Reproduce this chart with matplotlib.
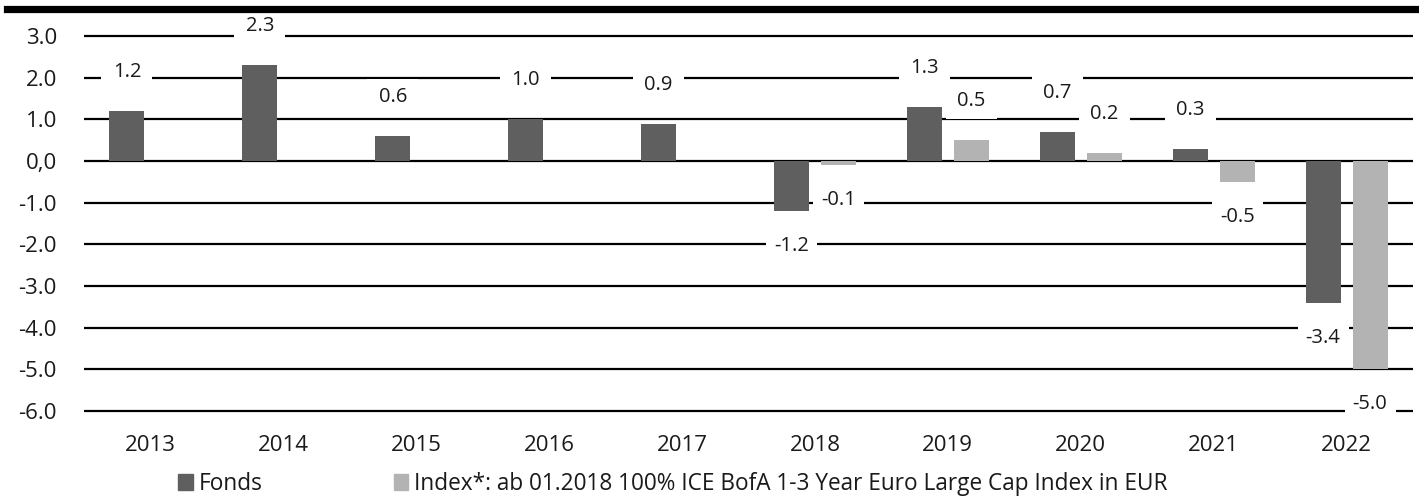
import matplotlib
matplotlib.use('Agg')
import matplotlib.pyplot as plt
from matplotlib.lines import Line2D
from matplotlib.patches import Patch, Rectangle
import matplotlib.transforms as mtransforms
import numpy as np

plt.rcParams['font.family'] = ['Open Sans', 'DejaVu Sans']

years = ['2013', '2014', '2015', '2016', '2017', '2018', '2019', '2020', '2021', '2022']
fonds = [1.2, 2.3, 0.6, 1.0, 0.9, -1.2, 1.3, 0.7, 0.3, -3.4]
index = [None, None, None, None, None, -0.1, 0.5, 0.2, -0.5, -5.0]
yticks = [3, 2, 1, 0, -1, -2, -3, -4, -5, -6]
ytick_labels = ['3.0', '2.0', '1.0', '0,0', '-1.0', '-2.0', '-3.0', '-4.0', '-5.0', '-6.0']
legend_labels = ['Fonds', 'Index*: ab 01.2018 100% ICE BofA 1-3 Year Euro Large Cap Index in EUR']

c_fonds = '#5f5f5f'
c_index = '#b3b3b3'
txt = '#1a1a1a'

W, H = 1419, 497
fig = plt.figure(figsize=(W/100, H/100), dpi=100)
ax = fig.add_axes([84/W, 84/H, (1413-84)/W, (463-84)/H])

x = np.arange(len(years))
w = 0.263
off = 0.177

# gridlines (drawn under the bars)
for t in yticks:
    ax.axhline(t, color='black', lw=1.6, zorder=1)

ax.bar(x - off, fonds, width=w, color=c_fonds, zorder=2)
idx_x = [xi + off for xi, v in zip(x, index) if v is not None]
idx_v = [v for v in index if v is not None]
ax.bar(idx_x, idx_v, width=w, color=c_index, zorder=2)

ax.set_xlim(-0.5, len(years) - 0.5)
ax.set_ylim(-6.05, 3.05)

# value labels; a fixed white box (51x36 px) cuts the gridline behind them
unit = 41.67  # px per unit on y
def label(xp, v):
    y = v + (39/unit if v >= 0 else -35/unit)
    tr = fig.dpi_scale_trans + mtransforms.ScaledTranslation(xp, y, ax.transData)
    ax.add_patch(Rectangle((-0.255, -0.18), 0.51, 0.36, transform=tr, fc='white', ec='none',
                           zorder=2.5, clip_on=False))
    ax.text(xp, y, f'{v:.1f}', ha='center', va='center', fontsize=14.5, color=txt, zorder=3)

for xi, v in zip(x, fonds):
    label(xi - off, v)
for xi, v in zip(idx_x, idx_v):
    label(xi, v)

ax.set_yticks(yticks)
ax.set_yticklabels(ytick_labels, fontsize=16, color=txt)
ax.set_xticks(x)
ax.set_xticklabels(years, fontsize=16, color=txt)
ax.tick_params(length=0)
ax.tick_params(axis='y', pad=19.5)
ax.tick_params(axis='x', pad=16)
for s in ax.spines.values():
    s.set_visible(False)

# thick rule at the top
fig.add_artist(Line2D([7/W, 1], [1 - 8.5/H, 1 - 8.5/H], color='black', lw=5.2, transform=fig.transFigure))

handles = [Patch(color=c_fonds), Patch(color=c_index)]
fig.legend(handles, legend_labels,
           loc='center left', bbox_to_anchor=(178/W, 1 - 484/H), ncol=2, frameon=False,
           fontsize=16.3, handlelength=0.65, handleheight=0.65, handletextpad=0.25,
           columnspacing=5.8, borderpad=0, borderaxespad=0, labelcolor=txt)

fig.savefig('out.png', dpi=100)
